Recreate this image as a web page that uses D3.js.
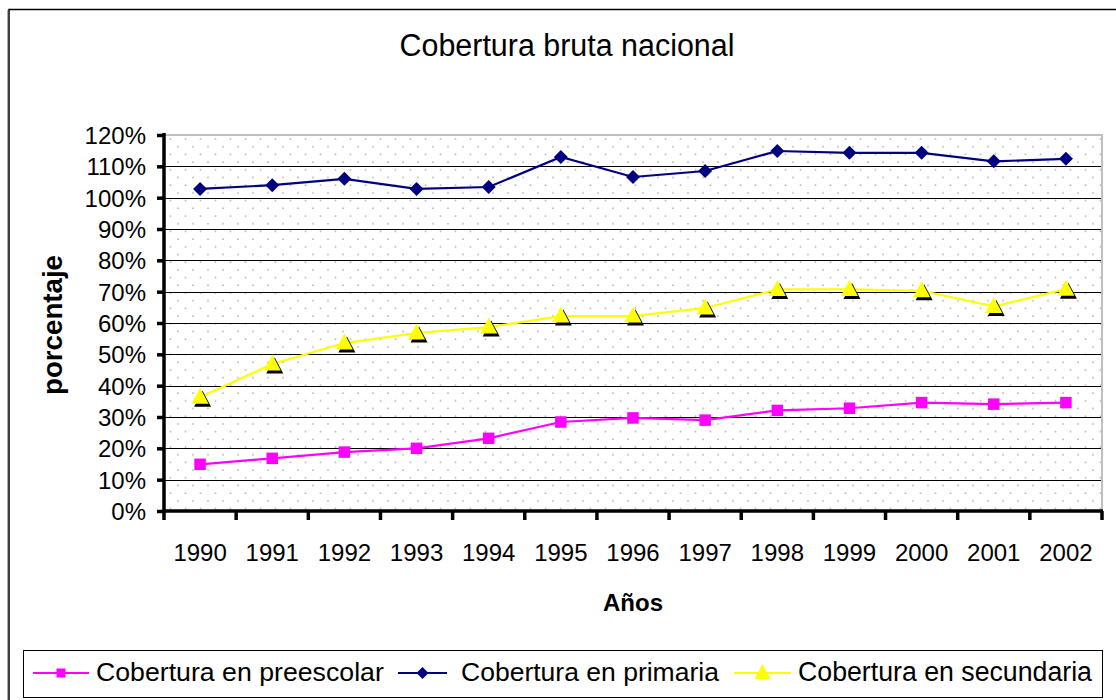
<!DOCTYPE html>
<html><head><meta charset="utf-8">
<script src="https://cdn.jsdelivr.net/npm/d3@7"></script>
<style>
body{margin:0;background:#fff;}
svg{display:block;font-family:"Liberation Sans",Arial,sans-serif;}
</style></head>
<body><svg id="c" width="1116" height="700"></svg>
<script>
const years = ["1990","1991","1992","1993","1994","1995","1996","1997","1998","1999","2000","2001","2002"];
const preescolar = [14.9,16.8,18.8,20.0,23.2,28.4,29.7,29.0,32.1,32.8,34.6,34.1,34.6];
const primaria = [102.8,104.0,106.0,102.8,103.4,113.0,106.6,108.5,114.9,114.3,114.3,111.6,112.4];
const secundaria = [36.3,46.9,53.6,56.8,58.7,62.2,62.2,64.8,70.7,70.7,70.3,65.3,70.8];
const yTicks = [0,10,20,30,40,50,60,70,80,90,100,110,120];
const seriesNames = ["Cobertura en preescolar","Cobertura en primaria","Cobertura en secundaria"];
const title = "Cobertura bruta nacional";
const yTitle = "porcentaje";
const xTitle = "Años";

const svg = d3.select("#c");
const L=164,R=1102,T=135,B=511;
const x = d3.scaleBand().domain(years).range([L,R]);
const y = d3.scaleLinear().domain([0,120]).range([B,T]);

function fit(sel, target){
  const fs = +sel.attr("font-size");
  const w = sel.node().getComputedTextLength();
  sel.attr("font-size", fs*target/w);
  return sel;
}

// outer frame
svg.append("rect").attr("x",9).attr("y",9.5).attr("width",1130).attr("height",720)
  .attr("fill","#fff").attr("stroke","#000").attr("stroke-width",1.5);
svg.append("line").attr("x1",7.5).attr("x2",7.5).attr("y1",10).attr("y2",700).attr("stroke","#aaa").attr("stroke-width",1);

// pattern
const defs = svg.append("defs");
const pat = defs.append("pattern").attr("id","dots").attr("patternUnits","userSpaceOnUse")
  .attr("width",15).attr("height",15.4).attr("x",L).attr("y",T);
pat.append("rect").attr("width",15).attr("height",15.4).attr("fill","#fff");
pat.append("circle").attr("cx",6.5).attr("cy",4).attr("r",0.9).attr("fill","#b4b4b4");
pat.append("circle").attr("cx",14).attr("cy",11.7).attr("r",0.9).attr("fill","#b4b4b4");
svg.append("rect").attr("x",L).attr("y",T).attr("width",R-L).attr("height",B-T).attr("fill","url(#dots)");

// gridlines
svg.append("g").selectAll("line").data(yTicks.filter(d=>d>0&&d<120)).join("line")
  .attr("x1",L).attr("x2",R).attr("y1",d=>Math.round(y(d))+0.5).attr("y2",d=>Math.round(y(d))+0.5)
  .attr("stroke","#000").attr("stroke-width",1);
// top/right border grey
svg.append("path").attr("d",`M${L},${T} H${R} V${B}`).attr("fill","none").attr("stroke","#c0c0c0").attr("stroke-width",2);

// y axis
const yAx = svg.append("g").attr("transform",`translate(${L},0)`)
  .call(d3.axisLeft(y).tickValues(yTicks).tickFormat(d=>d+"%").tickSize(7).tickPadding(11));
yAx.select(".domain").attr("stroke","#000").attr("stroke-width",3.5).attr("d",`M0,${T-2}V${B+1}`);
yAx.selectAll(".tick line").attr("stroke","#000").attr("stroke-width",3.5);
yAx.selectAll("text").attr("font-size",24).attr("fill","#000").attr("dy","0.36em");

// x axis
const xAx = svg.append("g").attr("transform",`translate(0,${B})`)
  .call(d3.axisBottom(x).tickSize(0).tickPadding(33));
xAx.select(".domain").attr("stroke","#000").attr("stroke-width",3.5).attr("d",`M${L-2},0H${R+1}`);
xAx.selectAll("text").attr("font-size",24).attr("fill","#000");
const bounds = years.map(d=>x(d)).concat([x.range()[1]]);
xAx.selectAll(".bt").data(bounds).join("line").attr("class","bt")
  .attr("x1",d=>d).attr("x2",d=>d).attr("y1",0).attr("y2",9).attr("stroke","#000").attr("stroke-width",3.5);

const cx = d => x(d)+x.bandwidth()/2;
const line = d3.line().x((d,i)=>cx(years[i])).y(d=>y(d));

// series
function drawSeries(vals,color,marker){
  const g = svg.append("g");
  g.append("path").datum(vals).attr("d",line).attr("fill","none").attr("stroke",color).attr("stroke-width",2.2);
  vals.forEach((v,i)=>{ marker(g,cx(years[i]),y(v)); });
}
function square(g,px,py,s=11.5){ g.append("rect").attr("x",px-s/2).attr("y",py-s/2).attr("width",s).attr("height",s).attr("fill","#ff00ff"); }
function diamond(g,px,py,s=7){ g.append("path").attr("d",`M${px},${py-s}L${px+s},${py}L${px},${py+s}L${px-s},${py}Z`).attr("fill","#000080"); }
function triangle(g,px,py,shadow=true,s=8.5){
  const d=(ox,oy)=>`M${px+ox},${py-s-1+oy}L${px+s+ox},${py+s-2+oy}L${px-s+ox},${py+s-2+oy}Z`;
  if(shadow) g.append("path").attr("d",d(2.5,3)).attr("fill","#000");
  g.append("path").attr("d",d(0,0)).attr("fill","#ffff00");
}
drawSeries(primaria,"#000080",diamond);
drawSeries(secundaria,"#ffff00",triangle);
drawSeries(preescolar,"#ff00ff",square);

// titles
fit(svg.append("text").attr("x",567).attr("y",56).attr("text-anchor","middle").attr("font-size",24).text(title),335);
fit(svg.append("text").attr("transform","translate(62,325) rotate(-90)").attr("text-anchor","middle")
  .attr("font-size",22).attr("font-weight","bold").text(yTitle),140);
fit(svg.append("text").attr("x",633).attr("y",611).attr("text-anchor","middle")
  .attr("font-size",22).attr("font-weight","bold").text(xTitle),60);

// legend
svg.append("rect").attr("x",23.5).attr("y",650.5).attr("width",1079).attr("height",47).attr("fill","#fff").attr("stroke","#000").attr("stroke-width",1);
const legItems = [
  {name:seriesNames[0],color:"#ff00ff",x1:33,x2:89,tx:96,tw:288,mk:(g,px,py)=>square(g,px,py,9)},
  {name:seriesNames[1],color:"#000080",x1:398,x2:447,tx:461,tw:258,mk:(g,px,py)=>diamond(g,px,py,6)},
  {name:seriesNames[2],color:"#ffff00",x1:734,x2:791,tx:798,tw:294,mk:(g,px,py)=>triangle(g,px,py,false,8)}
];
const ly=673;
legItems.forEach(it=>{
  const g=svg.append("g");
  g.append("line").attr("x1",it.x1).attr("x2",it.x2).attr("y1",ly).attr("y2",ly).attr("stroke",it.color).attr("stroke-width",2);
  it.mk(g,(it.x1+it.x2)/2,ly);
  fit(g.append("text").attr("x",it.tx).attr("y",ly+8).attr("font-size",22).text(it.name),it.tw);
});
</script></body></html>
